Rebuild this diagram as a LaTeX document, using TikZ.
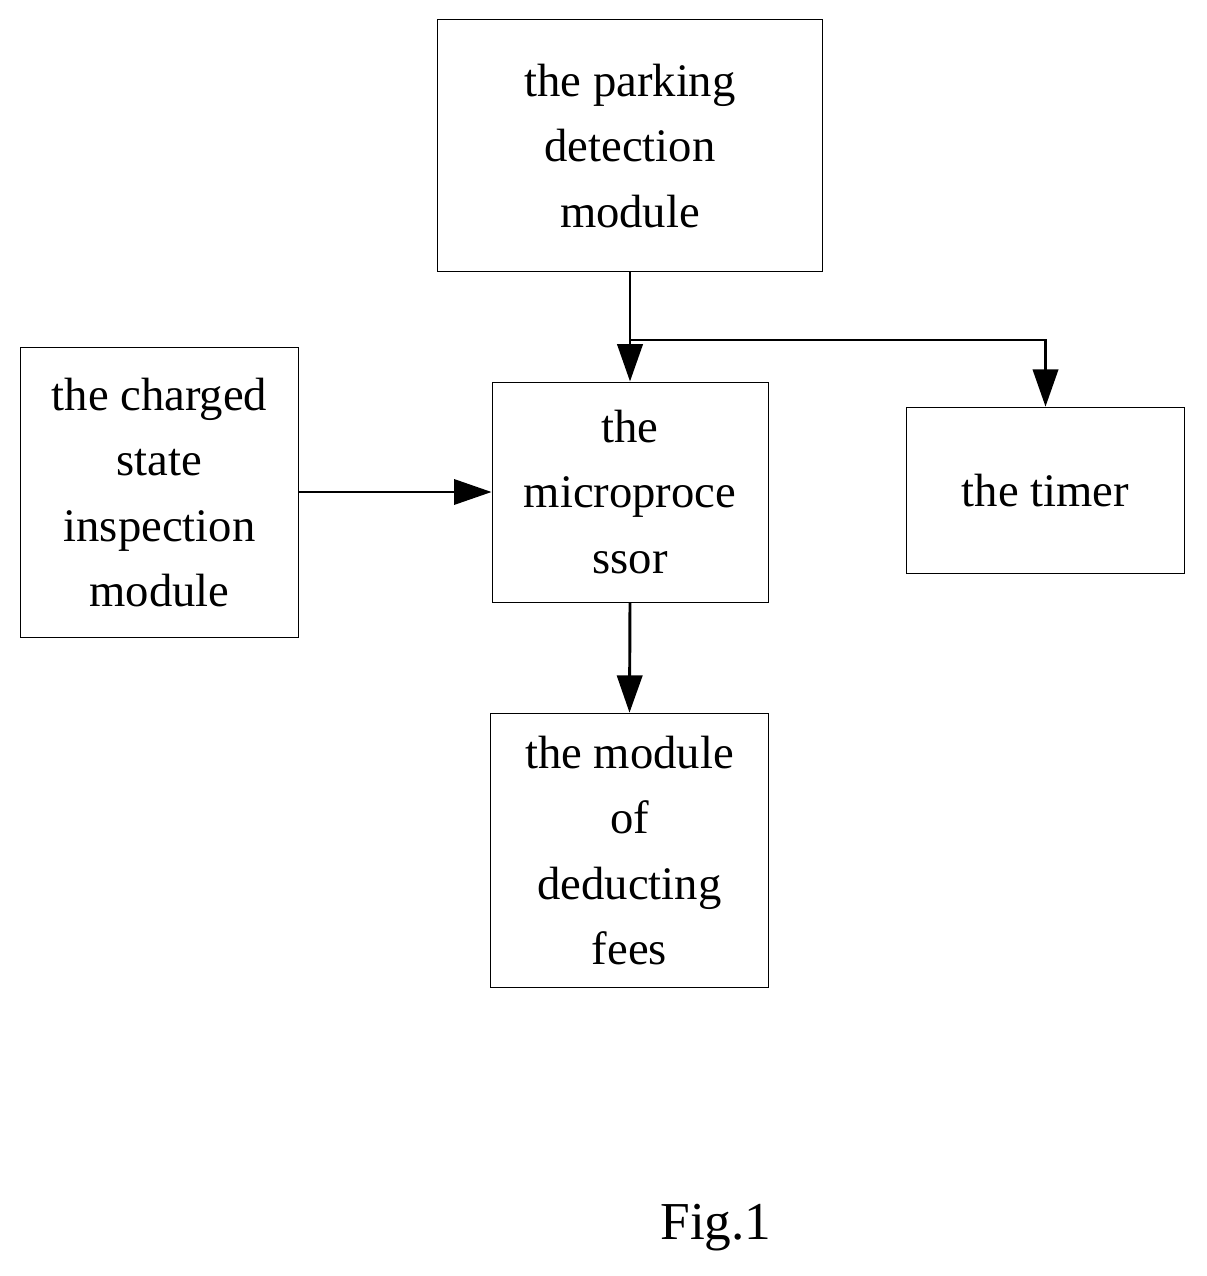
\documentclass[tikz,border=0pt]{standalone}
\usepackage{fontspec}
\setmainfont{Liberation Serif}
\usetikzlibrary{arrows.meta}
\begin{document}
\begin{tikzpicture}[x=0.75pt,y=-0.75pt,
  box/.style={draw,line width=0.75pt,inner sep=0pt,align=center,font=\fontsize{35}{49}\selectfont},
  arr/.style={line width=2.2pt,-{Triangle[length=28pt,width=19pt]}},
  harr/.style={line width=1.6pt,-{Triangle[length=28pt,width=19pt]}}]
\useasboundingbox (0,0) rectangle (1206,1276);
\node[box,minimum width=289pt,minimum height=189pt] (park) at (630,146) {the parking\\detection\\module};
\node[box,minimum width=209pt,minimum height=217pt] (charge) at (159.5,492.5) {the charged\\state\\inspection\\module};
\node[box,minimum width=207pt,minimum height=165pt] (micro) at (630,492) {the\\microproce\\ssor};
\node[box,minimum width=209pt,minimum height=125pt] (timer) at (1045.5,490.5) {the timer};
\node[box,minimum width=209pt,minimum height=206pt] (fees) at (629.5,850.5) {the module\\of\\deducting\\fees};
\node[font=\fontsize{40}{48}\selectfont] (fig) at (716,1228) {Fig.1};
\coordinate (br) at (630,340);
\draw[arr] (park.south) -- (micro.north);
\draw[arr] (br) -| (timer.north);
\draw[harr] (charge.east|-micro) -- (micro.west);
\draw[arr] (micro.south) -- (fees.north);
\end{tikzpicture}
\end{document}
